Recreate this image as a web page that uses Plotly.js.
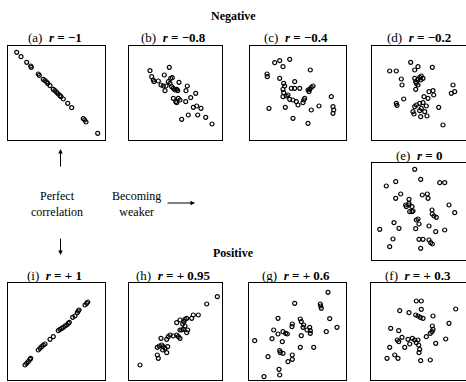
<!DOCTYPE html>
<html>
<head>
<meta charset="utf-8">
<script src="https://cdn.plot.ly/plotly-3.0.1.min.js"></script>
<style>html,body{margin:0;padding:0;overflow:hidden;background:#fff;}</style>
</head>
<body>
<div id="chart"></div>
<script>
// Panel labels
const panelLetters = ["(a)", "(b)", "(c)", "(d)", "(e)", "(f)", "(g)", "(h)", "(i)"];
const panelR = ["\u22121", "\u22120.8", "\u22120.4", "\u22120.2", "0", "+ 0.3", "+ 0.6", "+ 0.95", "+ 1"];
const groupTitles = ["Negative", "Positive"];
const noteLeft = ["Perfect", "correlation"];
const noteMid = ["Becoming", "weaker"];

// Scatter values, per panel
const a_x = [8.7,13,18.7,22.7,23.3,30.3,31.3,35.3,37,38.7,39.7,42,45.3,47,48.7,50.3,52,53,55.3,59.7,63.7,75.3,76.7,78,89.7];
const a_y = [87.7,83.3,77.7,74,72.7,66,64.7,60.7,59.3,58,56.7,54.3,50.7,49.3,47.7,46,44.3,43.3,41,36.7,32.3,21.3,20,18,6.7];

const b_x = [21,40.3,22.7,24.3,25,35.3,29.3,32,34.3,37,36,39.3,41.7,43.3,41,42.7,44.3,46,47.7,48.7,50,57,58.3,66.7,44.3,46.7,49.3,51,47.7,56.7,61.7,64.3,67.7,72,59.3,52.7,68.7,76.7,83];
const b_y = [69.3,72.7,63.3,60,58.3,65,59,55,54,54,49.3,58.3,61.7,62.3,56.7,53.3,51.7,50,50.7,49.3,57.7,49.3,54,46.7,41.7,38.3,41.7,40,37.3,38.3,42.3,32.7,34,31.7,25,20.7,25,22.7,16];

const c_x = [24.7,29.7,33,39.7,17,17.3,29.7,60.3,33.7,34.7,33,33.7,33,36.3,38,44.7,41.3,44.7,49.7,58,59.7,61.3,63,59,39.7,43,46.3,48,53.7,54.7,53,81.3,83,83.7,83,69,61.3,19,35.3,43,58];
const c_y = [77.3,79.3,73.3,80.7,66,63.3,61.7,70,56.7,54,50.7,47.3,43.3,44,45,58.3,51.7,51.7,51.7,50,50.7,52.7,54,48.3,40.7,40,38.3,35,40,41.7,37.3,43.3,33.3,30,26.7,34,30,31.7,32.7,21.7,16.7];

const d_x = [38.7,42.7,46,60.3,17.7,24.3,29.3,30,42.7,43.7,46,47.7,49.3,51,48.7,44.3,46,43.7,81,79.3,82.7,24.3,25,31.7,52,57,61,61.7,56,42.7,44.3,47.7,51,54.3,41,42,47.7,49.3,52.7,48.7,55,66.7,71];
const d_y = [77.7,70,73.3,72.7,69,69,61,55,61.7,58.3,60.7,62.7,64,61.7,60,56.7,55,50.7,55,46.7,48.3,36.7,34.7,41,43.3,48.3,49.3,45,41.7,33.3,35,36.7,37.3,34,28.3,26,29.3,31.7,28.3,23.3,24,32.7,15];

const e_x = [42.7,14.3,23.7,48.7,67.7,72.7,23.7,28.7,37,37,50.3,55.3,56,33.7,34.3,37,37.7,40,41,40,44.3,46,47,43.7,60,60.3,62,64.3,77,82.7,7.7,22,27,57,63.7,72.7,21,17.7,47,51,57,58.7,60.3,48.7];
const e_y = [90.7,74,78.3,80.7,77.3,77.3,61.7,66,60.7,56.7,65,66,61.7,55,53.3,55,48.3,48.3,49,53.3,40,41,36,31.3,50,46,44,42.7,55,47.3,30.7,37.3,31.7,34,28.3,30,21,13.3,20.7,20.7,20,17.3,16,11.7];

const f_x = [45.3,50.3,50.3,28.7,38,44.7,47,49.3,52,62,84.7,61.3,62,61,59.3,78,55.3,19.7,27.7,26.3,27.7,31,37,41.3,43.7,45.3,47,38.7,33.7,18.7,47.7,48.7,48,64.7,74.7,16,23.7,27,49.7,59.3];
const f_y = [79,79,70.7,69.3,67.3,65,64,62.7,61.7,64,71,54,50.7,48.3,46.7,56.7,43.3,51.7,49.3,40,38.3,42.7,40.7,41.7,40,37.3,40,36,32.7,32.7,35,30.7,27.3,36.7,41,21.7,25,21.7,19.3,20];

const g_x = [79,45.7,71.3,71.7,72.3,29,43.3,43,51.3,52.3,54.7,54,58,60.7,61.3,61.3,80.7,88,77.3,24.7,29,34,36.7,38.3,23,33.3,52.3,5.7,51.3,64.7,30.7,31.3,34,43.3,43.3,39,19,30,30.7,15];
const g_y = [87.7,76.7,76,74,71.7,61.7,56,53.3,61,58.3,55,52.7,50,52.7,49.3,46.7,61.3,52.7,48.3,50,46,48.3,46.7,46,41.3,38.3,44.3,39.3,32.7,32.7,29.3,27.3,26.7,25,20.7,18.3,23.3,10.7,5,3.3];

const h_x = [11,28.3,29.3,28.3,30.3,32.7,34.3,33.7,36,37.7,38.7,32,37.7,39.3,41,44.3,47.7,49.3,51,47.7,51,53.7,55,56,57.7,56,54.3,51,52.7,58.7,57.7,62.7,64.3,69.3,77.7,88.3];
const h_y = [15,25,21.7,32.7,34,35,33.3,30,31.7,27.3,33.3,41.7,40.7,43.3,45,44,45,43.3,41.7,57.3,60,56,58.3,60.7,61.7,54,50.7,50,50,50,47.3,61.7,65,65,76,83.3];

const i_x = [17,18.7,20.3,22,22.7,30.3,32,33.7,35.3,37,42,45.3,50.3,52,53.7,55.3,57,58.7,60.3,61.3,64.7,67,69.3,70.3,71,77,78.7,79.7];
const i_y = [15,16.7,18.3,20.7,21.7,30,31.7,33.3,35,36,40.7,43.3,49.3,50.7,51.7,52.7,54,55,56.7,57.7,62.7,64,67.3,69,70,75,76.7,78];

const panelData = [[a_x,a_y],[b_x,b_y],[c_x,c_y],[d_x,d_y],[e_x,e_y],[f_x,f_y],[g_x,g_y],[h_x,h_y],[i_x,i_y]];

// Layout geometry (pixels)
const W = 470, H = 382;
const boxes = [
  [8,105,46,140],[129,222,46,140],[250,346,46,140],[372,469,46,140],
  [372,469,163,260],
  [371,468,283,380],[249,346,283,380],[129,222,283,380],[8,105,283,380]
];
const fx = v => v / W;
const fy = v => 1 - v / H;
const serif = "'Liberation Serif', 'Times New Roman', Times, serif";

const traces = [];
const layout = {
  width: W, height: H,
  margin: {l:0, r:0, t:0, b:0},
  paper_bgcolor: "#fff", plot_bgcolor: "#fff",
  showlegend: false,
  font: {family: serif, color: "#000", size: 12},
  annotations: [], shapes: []
};

boxes.forEach((b, k) => {
  const n = k === 0 ? "" : String(k + 1);
  const bw = b[1] - b[0], bh = b[3] - b[2];
  traces.push({
    type: "scatter", mode: "markers",
    x: panelData[k][0], y: panelData[k][1],
    xaxis: "x" + n, yaxis: "y" + n,
    marker: {symbol: "circle-open", size: 4, color: "#000", line: {width: 1.2, color: "#000"}},
    hoverinfo: "skip", cliponaxis: false
  });
  const common = {showgrid:false, zeroline:false, showticklabels:false, ticks:"", showline:true, mirror:true, linecolor:"#000", linewidth:1, fixedrange:true};
  layout["xaxis" + n] = Object.assign({}, common, {domain:[fx(b[0]), fx(b[1])], range:[0,bw], anchor:"y"+n});
  layout["yaxis" + n] = Object.assign({}, common, {domain:[fy(b[3]), fy(b[2])], range:[0,bh], anchor:"x"+n});
  layout.annotations.push({
    xref:"paper", yref:"paper", x: fx((b[0]+b[1])/2 - 2), y: fy(b[2] - 8),
    xanchor:"center", yanchor:"middle", showarrow:false,
    text: panelLetters[k] + "\u00A0\u00A0<b><i>r</i> = " + panelR[k] + "</b>",
    font:{family: serif, size: 13, color:"#000"}
  });
});

// Group titles
layout.annotations.push({xref:"paper", yref:"paper", x: fx(233), y: fy(16), showarrow:false, xanchor:"center", yanchor:"middle",
  text:"<b>" + groupTitles[0] + "</b>", font:{family:serif, size:12, color:"#000"}});
layout.annotations.push({xref:"paper", yref:"paper", x: fx(233), y: fy(253), showarrow:false, xanchor:"center", yanchor:"middle",
  text:"<b>" + groupTitles[1] + "</b>", font:{family:serif, size:12, color:"#000"}});

// Notes
layout.annotations.push({xref:"paper", yref:"paper", x: fx(57), y: fy(203.5), showarrow:false, xanchor:"center", yanchor:"middle",
  text: noteLeft.join("<br>"), font:{family:serif, size:12, color:"#000"}});
layout.annotations.push({xref:"paper", yref:"paper", x: fx(136), y: fy(203.5), showarrow:false, xanchor:"center", yanchor:"middle",
  text: noteMid.join("<br>"), font:{family:serif, size:12, color:"#000"}});

// Arrows
const arrowCommon = {xref:"paper", yref:"paper", text:"", showarrow:true, arrowhead:2, arrowsize:0.9, arrowwidth:1, arrowcolor:"#000", standoff:0, startstandoff:0};
layout.annotations.push(Object.assign({}, arrowCommon, {x: fx(60.5), y: fy(149), ax: 0, ay: 19}));
layout.annotations.push(Object.assign({}, arrowCommon, {x: fx(60.5), y: fy(255), ax: 0, ay: -18}));
layout.annotations.push(Object.assign({}, arrowCommon, {x: fx(195), y: fy(203), ax: -29, ay: 0}));

Plotly.newPlot("chart", traces, layout, {staticPlot:true, displayModeBar:false});
</script>
</body>
</html>
